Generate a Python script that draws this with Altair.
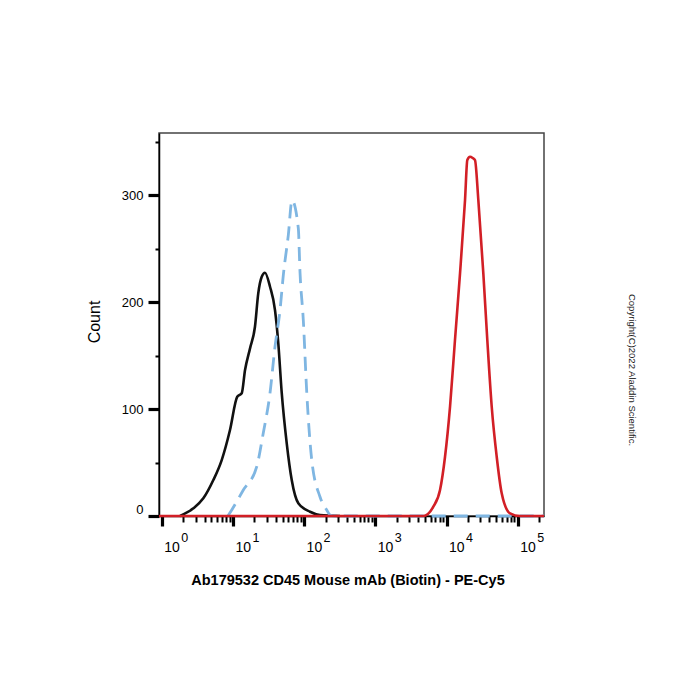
import altair as alt
import pandas as pd

# ---- data ----
black_x = [1.81, 2.78, 3.84, 5.31, 6.96, 9.10, 11.5, 13.3, 14.8, 17.4, 20.4, 22.7,
           25.4, 28.2, 33.2, 39.0, 43.4, 48.5, 57.0, 67.0, 82.9, 121, 167, 319]
black_y = [0, 7.2, 16.5, 33.6, 52.3, 80.4, 111.5, 114.7, 136.4, 156.7, 176.9, 208.1,
           223.6, 227.4, 214.3, 192.5, 161.4, 115, 67.9, 33.6, 11.9, 4.0, 0.9, 0]

blue_x = [8.5, 9.62, 14.0, 21.6, 26.7, 33.2, 39.0, 45.9, 51.0, 60.0, 67.6, 82.9,
          87.5, 97.4, 109, 128, 167, 208, 231, 260, 234000]
blue_y = [0, 5.6, 24.3, 46.1, 77.6, 115, 158.2, 192.5, 225, 262.6, 295, 269,
          228.3, 183.2, 115, 52.3, 18, 5.6, 0.9, 0, 0]

red_x = [0.916, 4720, 6530, 8110, 9530, 11200, 13150, 15480, 18200, 19600, 21380,
         23340, 25120, 27990, 32890, 37410, 43150, 50700, 59600, 78000, 107700, 234000]
red_y = [0, 0, 8.7, 24.3, 55.4, 102.1, 164.5, 226.8, 295.3, 332.7, 335.8,
         334.6, 332.7, 295.3, 226.8, 164.5, 102.1, 55.4, 21.2, 2.5, 0, 0]

decades = [1, 10, 100, 1000, 10000, 100000]
exponents = ["0", "1", "2", "3", "4", "5"]
x_tick_values = [m * d for d in decades for m in range(1, 10)] + [200000]
y_tick_values = list(range(0, 351, 25))

x_title = "Ab179532 CD45 Mouse mAb (Biotin) - PE-Cy5"
y_title = "Count"
copyright_text = ["Copyright(C)2022 Aladdin Scientific."]

FONT = "Liberation Sans"

df_black = pd.DataFrame({"x": black_x, "y": black_y})
df_blue = pd.DataFrame({"x": blue_x, "y": blue_y})
df_red = pd.DataFrame({"x": red_x, "y": red_y})
df_exp = pd.DataFrame({"x": decades, "e": exponents})
df_copy = pd.DataFrame({"t": copyright_text})

major_x = "indexof([1,10,100,1000,10000,100000], datum.value) >= 0"
major_y = "datum.value % 100 == 0"

x_scale = alt.Scale(type="log", domain=[0.916, 234000], nice=False)
y_scale = alt.Scale(domain=[0, 358], nice=False, zero=False)

x_axis = alt.Axis(
    values=x_tick_values,
    labelExpr=f"{major_x} ? '10' : ''",
    labelAlign="left",
    labelBaseline="top",
    labelOffset=2,
    labelPadding=14,
    labelFlush=False,
    labelOverlap=False,
    labelFont=FONT,
    labelFontSize=14,
    labelColor="#000",
    tickColor="#000",
    tickSize={"condition": {"test": major_x, "value": 10}, "value": 6},
    tickWidth={"condition": {"test": major_x, "value": 3.2}, "value": 2},
    domainColor="#000",
    domainWidth=1.5,
    grid=False,
    title=x_title,
    titleFont=FONT,
    titleFontSize=14.5,
    titleFontWeight="bold",
    titleColor="#000",
    titleX=188.5,
    titleY=64,
    titleAlign="center",
    titleBaseline="middle",
)

y_axis = alt.Axis(
    values=y_tick_values,
    labelExpr=f"{major_y} ? datum.label : ''",
    labelPadding=5,
    labelFlush=True,
    labelOverlap=False,
    labelFont=FONT,
    labelFontSize=13,
    labelColor="#000",
    tickColor="#000",
    tickSize={"condition": {"test": major_y, "value": 11}, "value": 4},
    tickWidth={"condition": {"test": major_y, "value": 3.2}, "value": 2},
    domainColor="#000",
    domainWidth=1.5,
    grid=False,
    title=y_title,
    titleFont=FONT,
    titleFontSize=16,
    titleFontWeight="normal",
    titleColor="#000",
    titleAngle=-90,
    titleX=-64.5,
    titleY=188.5,
    titleAlign="center",
    titleBaseline="middle",
)

black = alt.Chart(df_black).mark_line(
    color="#111111", strokeWidth=2.6, interpolate="monotone", clip=False
).encode(
    x=alt.X("x:Q", scale=x_scale, axis=x_axis),
    y=alt.Y("y:Q", scale=y_scale, axis=y_axis),
)

blue = alt.Chart(df_blue).mark_line(
    color="#7fb6e2", strokeWidth=2.8, strokeDash=[14, 8],
    interpolate="monotone", clip=False
).encode(x="x:Q", y="y:Q")

red = alt.Chart(df_red).mark_line(
    color="#d21f26", strokeWidth=2.6, interpolate="monotone", clip=False
).encode(x="x:Q", y="y:Q")

exp_text = alt.Chart(df_exp).mark_text(
    align="left", baseline="top", dx=19.5, font=FONT, fontSize=12.5, color="#000"
).encode(x="x:Q", y=alt.value(399), text="e:N")

copy_text = alt.Chart(df_copy).mark_text(
    angle=90, align="center", baseline="middle", font=FONT, fontSize=9.5,
    color="#222222"
).encode(x=alt.value(472.5), y=alt.value(237), text="t:N")

chart = alt.layer(black, blue, red, exp_text, copy_text).properties(
    width=385,
    height=383,
    autosize=alt.AutoSizeParams(type="none"),
    padding={"left": 159, "top": 133, "right": 156, "bottom": 184},
    background="white",
).configure_view(stroke="#444444", strokeWidth=1.5)

chart.save("out.html", embed_options={"renderer": "svg", "actions": False})
